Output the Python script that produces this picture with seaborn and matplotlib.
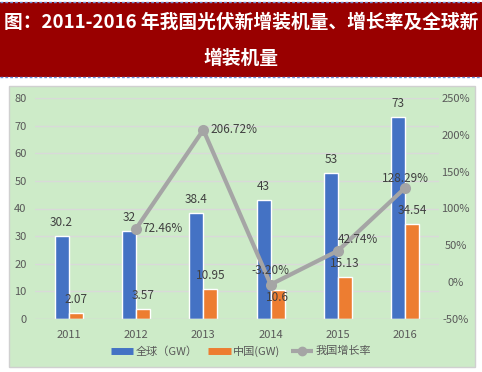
import matplotlib
matplotlib.use("Agg")
import matplotlib.pyplot as plt
import seaborn as sns
import pandas as pd
import numpy as np
from matplotlib.patches import Rectangle
from matplotlib.lines import Line2D

years = ["2011", "2012", "2013", "2014", "2015", "2016"]
global_gw = [30.2, 32, 38.4, 43, 53, 73]
china_gw = [2.07, 3.57, 10.95, 10.6, 15.13, 34.54]
growth = [np.nan, 72.46, 206.72, -3.20, 42.74, 128.29]
growth_labels = ["", "72.46%", "206.72%", "-3.20%", "42.74%", "128.29%"]
series_names = ["全球（GW）", "中国(GW)", "我国增长率"]
title_line1 = "图：2011-2016 年我国光伏新增装机量、增长率及全球新"
title_line2 = "增装机量"

sns.set_theme(style="white")
plt.rcParams['font.family'] = ['Noto Sans CJK SC', 'DejaVu Sans']

W, H = 482, 372
fig = plt.figure(figsize=(W / 100, H / 100), dpi=100)
fig.patch.set_facecolor("white")

def fx(x): return x / W
def fy(y): return 1 - y / H

# title band
fig.patches.append(Rectangle((fx(0), fy(77)), 1, (77 - 2) / H, transform=fig.transFigure,
                             facecolor="#990000", edgecolor="none", zorder=-10))
for yy in (2, 77):
    fig.add_artist(Line2D([0, 1], [fy(yy), fy(yy)], transform=fig.transFigure,
                          color="#6f8fd8", lw=1, ls=(0, (2, 1.5)), zorder=-9))
fig.text(0.5, fy(22), title_line1, color="white", fontsize=13.5, fontweight="bold",
         ha="center", va="center")
fig.text(0.5, fy(58), title_line2, color="white", fontsize=13.5, fontweight="bold",
         ha="center", va="center")

# chart background
fig.patches.append(Rectangle((fx(9), fy(367)), (475 - 9) / W, (367 - 86) / H,
                             transform=fig.transFigure, facecolor="#cdebc8",
                             edgecolor="#d0d0d0", lw=1, zorder=-10))

ax = fig.add_axes([fx(35), fy(319), (439 - 35) / W, (319 - 98) / H])
ax.set_facecolor("none")

df = pd.DataFrame({"year": years * 2,
                   "val": global_gw + china_gw,
                   "series": [series_names[0]] * 6 + [series_names[1]] * 6})
sns.barplot(data=df, x="year", y="val", hue="series", palette=["#4472C4", "#ED7D31"],
            width=0.42, ax=ax, legend=False, saturation=1)
ax.set_ylim(0, 80)
ax.set_xlim(-0.5, 5.5)
ax.set_yticks(range(0, 81, 10))
ax.yaxis.grid(True, color="#d9d9d9", lw=1)
ax.set_axisbelow(True)
for s in ax.spines.values():
    s.set_visible(False)
ax.set_xlabel("")
ax.set_ylabel("")
ax.tick_params(axis="both", length=0, labelsize=8, labelcolor="#595959", pad=6)
ax.tick_params(axis="x", pad=8)
ax.axhline(0, color="#d9d9d9", lw=1)

x = np.arange(len(years))
bw = 0.21
china_label_dy = [2.5, 2.5, 2.5, -0.3, 2.5, 2.5]
for i in range(6):
    ax.text(x[i] - bw / 2, global_gw[i] + 2.5, f"{global_gw[i]:g}", ha="center", va="bottom",
            fontsize=8.5, color="#404040")
    dy = china_label_dy[i]
    ax.text(x[i] + bw / 2, china_gw[i] + dy, f"{china_gw[i]:g}", ha="center",
            va="bottom" if dy > 0 else "top", fontsize=8.5, color="#404040", zorder=5)

ax2 = ax.twinx()
gdf = pd.DataFrame({"x": x, "g": growth})
sns.lineplot(data=gdf, x="x", y="g", ax=ax2, color="#A5A5A5", lw=3, marker="o",
             markersize=8, markeredgewidth=0, legend=False)
ax2.set_xlim(-0.5, 5.5)
ax2.set_ylim(-50, 250)
ax2.set_yticks(range(-50, 251, 50))
ax2.set_yticklabels([f"{v}%" for v in range(-50, 251, 50)], ha="center")
ax2.set_ylabel("")
for s in ax2.spines.values():
    s.set_visible(False)
ax2.tick_params(axis="y", length=0, labelsize=8, labelcolor="#595959", pad=12)
offsets = {1: (0.1, 0, "left", "center"), 2: (0.1, 0, "left", "center"),
           3: (0.0, 10, "center", "bottom"), 4: (0.0, 7, "left", "bottom"),
           5: (0.0, 3, "center", "bottom")}
for i, (dx, dy, ha, va) in offsets.items():
    ax2.text(x[i] + dx, growth[i] + dy, growth_labels[i], ha=ha, va=va,
             fontsize=8.5, color="#404040")

handles = [Line2D([], [], color="#4472C4", lw=5, solid_capstyle="butt"),
           Line2D([], [], color="#ED7D31", lw=5, solid_capstyle="butt"),
           Line2D([], [], color="#A5A5A5", lw=3, marker="o", markersize=6,
                  solid_capstyle="butt")]
fig.legend(handles, series_names, loc="center", bbox_to_anchor=(0.5, fy(351)), ncol=3,
           frameon=False, fontsize=8, handlelength=2.0, columnspacing=1.0,
           handletextpad=0.2, labelcolor="#595959")

fig.savefig("out.png", dpi=100)
